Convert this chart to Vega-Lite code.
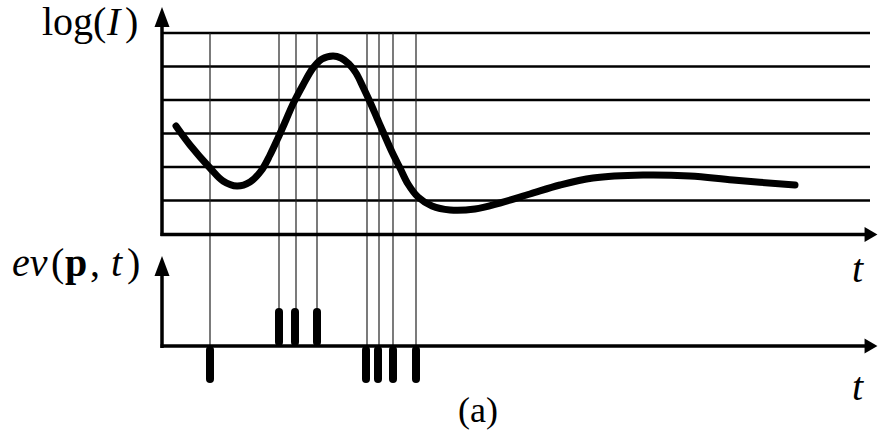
{
  "$schema": "https://vega.github.io/schema/vega-lite/v6.json",
  "width": 878,
  "height": 432,
  "autosize": {"type": "fit", "contains": "padding"},
  "padding": 0,
  "background": "white",
  "config": {"view": {"stroke": null}},
  "datasets": {
    "hlines": [
      {"x": 161, "x2": 870, "y": 33},
      {"x": 161, "x2": 870, "y": 66.5},
      {"x": 161, "x2": 870, "y": 100},
      {"x": 161, "x2": 870, "y": 133.5},
      {"x": 161, "x2": 870, "y": 167},
      {"x": 161, "x2": 870, "y": 200.5}
    ],
    "vlines": [
      {"x": 210, "y": 33, "y2": 346},
      {"x": 279, "y": 33, "y2": 346},
      {"x": 296, "y": 33, "y2": 346},
      {"x": 317, "y": 33, "y2": 346},
      {"x": 367, "y": 33, "y2": 346},
      {"x": 379, "y": 33, "y2": 346},
      {"x": 393, "y": 33, "y2": 346},
      {"x": 416, "y": 33, "y2": 346}
    ],
    "axes": [
      {"x": 162, "x2": 162, "y": 236, "y2": 24},
      {"x": 160.5, "x2": 868, "y": 234.5, "y2": 234.5},
      {"x": 162, "x2": 162, "y": 348, "y2": 272},
      {"x": 160.5, "x2": 868, "y": 346, "y2": 346}
    ],
    "uparrows": [
      {"x": 162, "y": 17},
      {"x": 162, "y": 266}
    ],
    "rightarrows": [
      {"x": 871, "y": 234.5},
      {"x": 871, "y": 346}
    ],
    "curve": [
      {"x": 176, "y": 126},
      {"x": 190, "y": 145},
      {"x": 210, "y": 168},
      {"x": 223, "y": 181},
      {"x": 237, "y": 186},
      {"x": 250, "y": 182},
      {"x": 261, "y": 171},
      {"x": 270, "y": 155},
      {"x": 278, "y": 138},
      {"x": 286, "y": 120},
      {"x": 293, "y": 104},
      {"x": 303, "y": 85},
      {"x": 313, "y": 68},
      {"x": 322, "y": 59},
      {"x": 333, "y": 56},
      {"x": 341, "y": 58},
      {"x": 349, "y": 64},
      {"x": 356, "y": 73},
      {"x": 363, "y": 87},
      {"x": 370, "y": 102},
      {"x": 377, "y": 118},
      {"x": 384, "y": 134},
      {"x": 392, "y": 152},
      {"x": 400, "y": 168},
      {"x": 408, "y": 184},
      {"x": 418, "y": 197},
      {"x": 432, "y": 206},
      {"x": 450, "y": 210},
      {"x": 475, "y": 209},
      {"x": 500, "y": 203},
      {"x": 530, "y": 194},
      {"x": 560, "y": 185},
      {"x": 593, "y": 178},
      {"x": 643, "y": 175},
      {"x": 690, "y": 176},
      {"x": 733, "y": 180},
      {"x": 795, "y": 185}
    ],
    "spikes": [
      {"x": 210, "y": 350, "y2": 379},
      {"x": 279, "y": 312, "y2": 342},
      {"x": 295, "y": 312, "y2": 342},
      {"x": 317, "y": 312, "y2": 342},
      {"x": 366, "y": 350, "y2": 379},
      {"x": 378, "y": 350, "y2": 379},
      {"x": 393, "y": 350, "y2": 379},
      {"x": 416, "y": 350, "y2": 379}
    ],
    "upright": [
      {"text": "log(", "x": 42, "y": 35},
      {"text": ")", "x": 125, "y": 35},
      {"text": "(", "x": 51, "y": 276},
      {"text": ",", "x": 90, "y": 276},
      {"text": ")", "x": 127, "y": 276}
    ],
    "italic": [
      {"text": "I", "x": 107, "y": 35},
      {"text": "ev", "x": 12, "y": 276},
      {"text": "t", "x": 111, "y": 276},
      {"text": "t", "x": 852, "y": 282},
      {"text": "t", "x": 852, "y": 400}
    ],
    "bold": [
      {"text": "p", "x": 65, "y": 276}
    ],
    "caption": [
      {"text": "(a)", "x": 458, "y": 422}
    ]
  },
  "encoding": {
    "x": {"field": "x", "type": "quantitative", "scale": {"domain": [0, 878], "nice": false, "zero": false}, "axis": null},
    "y": {"field": "y", "type": "quantitative", "scale": {"domain": [0, 432], "nice": false, "zero": false, "reverse": true}, "axis": null}
  },
  "layer": [
    {
      "data": {"name": "hlines"},
      "mark": {"type": "rule", "color": "black", "strokeWidth": 2.5},
      "encoding": {"x2": {"field": "x2"}}
    },
    {
      "data": {"name": "vlines"},
      "mark": {"type": "rule", "color": "#222222", "strokeWidth": 1.2},
      "encoding": {"y2": {"field": "y2"}}
    },
    {
      "data": {"name": "axes"},
      "mark": {"type": "rule", "color": "black", "strokeWidth": 3.5},
      "encoding": {"x2": {"field": "x2"}, "y2": {"field": "y2"}}
    },
    {
      "data": {"name": "uparrows"},
      "mark": {"type": "point", "filled": true, "color": "black", "opacity": 1, "shape": "M-0.75,1L0,-1L0.75,1Z", "size": 400, "strokeWidth": 0}
    },
    {
      "data": {"name": "rightarrows"},
      "mark": {"type": "point", "filled": true, "color": "black", "opacity": 1, "shape": "M-0.86,-1L0.86,0L-0.86,1Z", "size": 225, "strokeWidth": 0}
    },
    {
      "data": {"name": "curve"},
      "mark": {"type": "line", "color": "black", "strokeWidth": 7, "strokeCap": "round", "strokeJoin": "round", "interpolate": "catmull-rom"}
    },
    {
      "data": {"name": "spikes"},
      "mark": {"type": "rule", "color": "black", "strokeWidth": 8, "strokeCap": "round"},
      "encoding": {"y2": {"field": "y2"}}
    },
    {
      "data": {"name": "upright"},
      "mark": {"type": "text", "font": "Liberation Serif", "fontSize": 40, "align": "left", "baseline": "alphabetic", "color": "black"},
      "encoding": {"text": {"field": "text"}}
    },
    {
      "data": {"name": "italic"},
      "mark": {"type": "text", "font": "Liberation Serif", "fontSize": 40, "fontStyle": "italic", "align": "left", "baseline": "alphabetic", "color": "black"},
      "encoding": {"text": {"field": "text"}}
    },
    {
      "data": {"name": "bold"},
      "mark": {"type": "text", "font": "Liberation Serif", "fontSize": 40, "fontWeight": "bold", "align": "left", "baseline": "alphabetic", "color": "black"},
      "encoding": {"text": {"field": "text"}}
    },
    {
      "data": {"name": "caption"},
      "mark": {"type": "text", "font": "Liberation Serif", "fontSize": 36, "align": "left", "baseline": "alphabetic", "color": "black"},
      "encoding": {"text": {"field": "text"}}
    }
  ]
}
